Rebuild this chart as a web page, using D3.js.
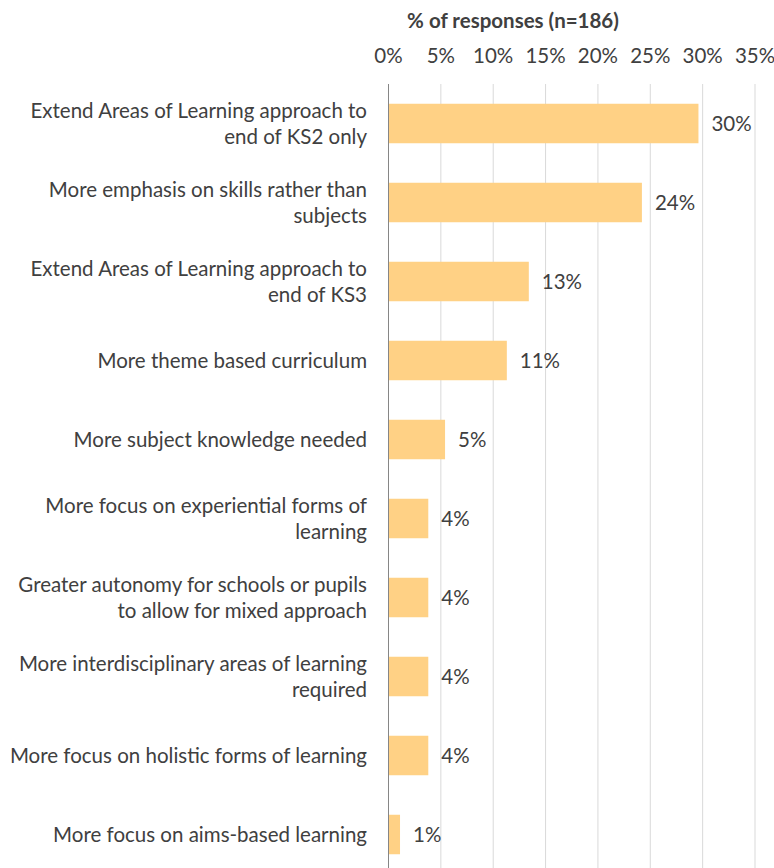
<!DOCTYPE html>
<html><head><meta charset="utf-8">
<script src="https://cdn.jsdelivr.net/npm/d3@7"></script>
<style>body{margin:0;background:#fff}text{font-family:Lato,"Open Sans",sans-serif}</style>
</head><body><svg id="c" width="774" height="868"></svg>
<script>
const categories = [
  ["Extend Areas of Learning approach to","end of KS2 only"],
  ["More emphasis on skills rather than","subjects"],
  ["Extend Areas of Learning approach to","end of KS3"],
  ["More theme based curriculum"],
  ["More subject knowledge needed"],
  ["More focus on experiential forms of","learning"],
  ["Greater autonomy for schools or pupils","to allow for mixed approach"],
  ["More interdisciplinary areas of learning","required"],
  ["More focus on holistic forms of learning"],
  ["More focus on aims-based learning"]
];
const values = [29.6, 24.2, 13.4, 11.3, 5.4, 3.8, 3.8, 3.8, 3.8, 1.1];
const valueLabels = ["30%","24%","13%","11%","5%","4%","4%","4%","4%","1%"];
const ticks = [0,5,10,15,20,25,30,35];
const axisTitle = "% of responses (n=186)";

const svg = d3.select("#c");
const x = d3.scaleLinear().domain([0,35]).range([388.5,755]);
const y = d3.scaleBand().domain(d3.range(categories.length)).range([84,874]).paddingInner(0.5).paddingOuter(0.25);
const txt = "#404040";
const fs = 20.5;

svg.append("g").selectAll("line").data(ticks.slice(1)).join("line")
  .attr("x1",d=>x(d)).attr("x2",d=>x(d)).attr("y1",84).attr("y2",868)
  .attr("stroke","#d9d9d9").attr("stroke-width",1);

svg.append("g").selectAll("text").data(ticks).join("text")
  .attr("x",d=>x(d)).attr("y",63).attr("text-anchor","middle")
  .attr("font-size",fs).attr("fill",txt).text(d=>d+"%");

svg.append("text").attr("x",513).attr("y",28).attr("text-anchor","middle")
  .attr("font-size",fs).attr("font-weight","bold").attr("fill",txt).text(axisTitle);

svg.append("g").selectAll("rect").data(values).join("rect")
  .attr("x",x(0)).attr("y",(d,i)=>y(i)).attr("width",d=>x(d)-x(0)).attr("height",y.bandwidth())
  .attr("fill","#FFD185");

svg.append("line").attr("x1",x(0)).attr("x2",x(0)).attr("y1",84).attr("y2",868)
  .attr("stroke","#868686").attr("stroke-width",1);

svg.append("g").selectAll("text").data(values).join("text")
  .attr("x",d=>x(d)+13).attr("y",(d,i)=>y(i)+y.bandwidth()/2+7)
  .attr("font-size",fs).attr("fill",txt).text((d,i)=>valueLabels[i]);

const lg = svg.append("g").selectAll("text").data(categories).join("text")
  .attr("text-anchor","end").attr("font-size",fs).attr("fill",txt);
lg.each(function(lines,i){
  const c = y(i)+y.bandwidth()/2;
  const start = c+7-(lines.length-1)*13;
  d3.select(this).selectAll("tspan").data(lines).join("tspan")
    .attr("x",367).attr("y",(d,j)=>start+j*26).text(d=>d);
});
</script></body></html>
